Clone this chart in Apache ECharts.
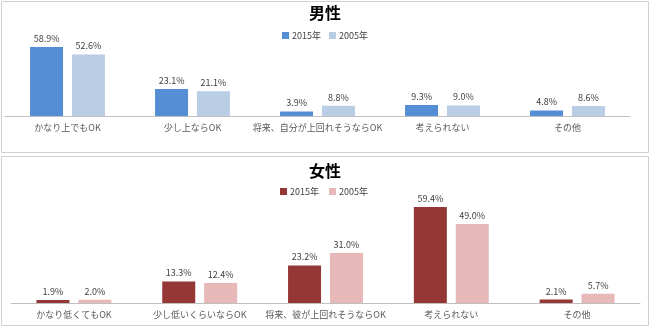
<!DOCTYPE html>
<html>
<head>
<meta charset="utf-8">
<script src="https://cdn.jsdelivr.net/npm/echarts@6/dist/echarts.min.js"></script>
<style>
html,body{margin:0;padding:0;background:#fff;}
#c{width:650px;height:327px;}
</style>
</head>
<body>
<div id="c"></div>
<script>
// 男性: 相手の収入について
const maleCategories = ['かなり上でもOK', '少し上ならOK', '将来、自分が上回れそうならOK', '考えられない', 'その他'];
const male2015 = [58.9, 23.1, 3.9, 9.3, 4.8];
const male2005 = [52.6, 21.1, 8.8, 9.0, 8.6];

// 女性
const femaleCategories = ['かなり低くてもOK', '少し低いくらいならOK', '将来、彼が上回れそうならOK', '考えられない', 'その他'];
const female2015 = [1.9, 13.3, 23.2, 59.4, 2.1];
const female2005 = [2.0, 12.4, 31.0, 49.0, 5.7];

const seriesNames = ['2015年', '2005年'];

const FONT = '"Noto Sans CJK JP", "Noto Sans", sans-serif';
const chart = echarts.init(document.getElementById('c'), null, {renderer: 'canvas'});

const valueLabel = {
  show: true, position: 'top', distance: 4,
  color: '#404040', fontSize: 9, fontFamily: FONT,
  formatter: p => p.value.toFixed(1) + '%'
};

function catAxis(idx, cats) {
  return {
    type: 'category', gridIndex: idx, data: cats,
    axisLine: {lineStyle: {color: '#bfbfbf', width: 1}},
    axisTick: {show: false},
    axisLabel: {color: '#595959', fontSize: 9, fontFamily: FONT, margin: 7, interval: 0}
  };
}
function valAxis(idx) {
  return {
    type: 'value', gridIndex: idx, min: 0, max: 70, show: false,
    splitLine: {show: false}
  };
}
function bar(name, data, idx, color) {
  return {
    type: 'bar', name: name, data: data, xAxisIndex: idx, yAxisIndex: idx,
    barWidth: 33, barGap: '27%', itemStyle: {color: color},
    label: valueLabel, silent: true
  };
}
const legendText = {fontSize: 9, color: '#404040', fontFamily: FONT, padding: [0, 0, 0, -2]};

chart.setOption({
  animation: false,
  graphic: [
    {type: 'rect', shape: {x: 1.5, y: 1.5, width: 647, height: 151}, style: {fill: 'none', stroke: '#d0d0d0', lineWidth: 1}},
    {type: 'rect', shape: {x: 1.5, y: 156.5, width: 647, height: 169}, style: {fill: 'none', stroke: '#d0d0d0', lineWidth: 1}}
  ],
  title: [
    {text: '男性', left: 'center', top: 0, textStyle: {fontSize: 16, fontWeight: 'bold', color: '#000', fontFamily: FONT}},
    {text: '女性', left: 'center', top: 158, textStyle: {fontSize: 16, fontWeight: 'bold', color: '#000', fontFamily: FONT}}
  ],
  legend: [
    {left: 'center', top: 26, itemWidth: 7, itemHeight: 7, itemGap: 8,
     icon: 'rect', textStyle: legendText, selectedMode: false,
     data: [{name: '2015年'}, {name: '2005年'}]},
    {left: 'center', top: 182, itemWidth: 7, itemHeight: 7, itemGap: 8,
     icon: 'rect', textStyle: legendText, selectedMode: false,
     data: [{name: '2015年 '}, {name: '2005年 '}]}
  ],
  grid: [
    {left: 5, width: 625, top: 34, height: 82},
    {left: 11, width: 629, top: 190, height: 113}
  ],
  xAxis: [catAxis(0, maleCategories), catAxis(1, femaleCategories)],
  yAxis: [valAxis(0), valAxis(1)],
  series: [
    bar(seriesNames[0], male2015, 0, '#558ed5'),
    bar(seriesNames[1], male2005, 0, '#b9cde5'),
    bar(seriesNames[0] + ' ', female2015, 1, '#953735'),
    bar(seriesNames[1] + ' ', female2005, 1, '#e6b9b8')
  ]
});
</script>
</body>
</html>
